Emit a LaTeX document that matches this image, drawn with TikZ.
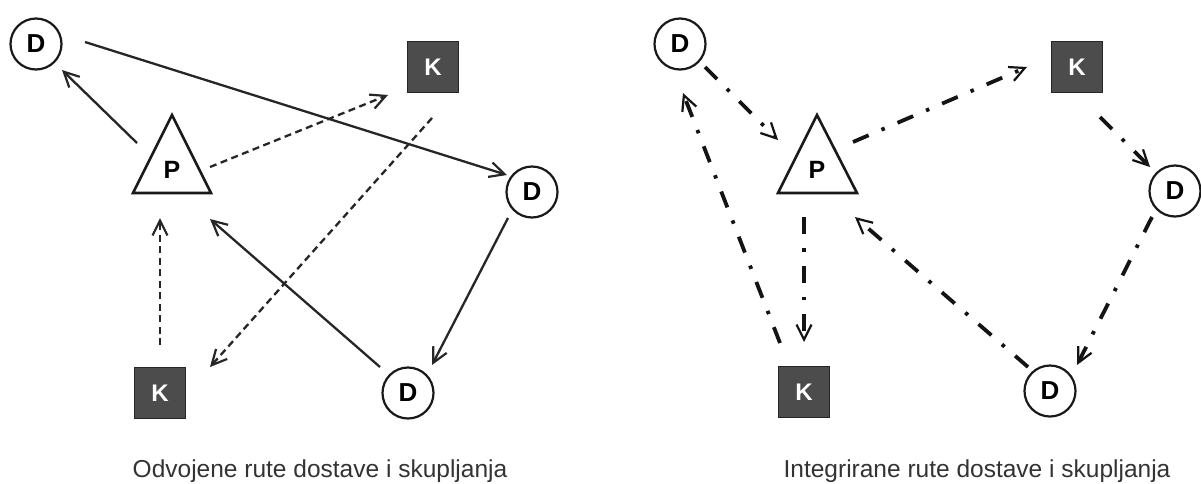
\documentclass[tikz,border=0pt]{standalone}
\usepackage{fontspec}
\setmainfont{Liberation Sans}
\usetikzlibrary{arrows.meta,calc}
\begin{document}
\begin{tikzpicture}[x=1pt,y=-1pt,
  dnode/.style={circle,draw=black!90,line width=2.2pt,minimum size=51pt,inner sep=0pt,font=\fontsize{26}{26}\selectfont\bfseries},
  knode/.style={rectangle,draw=black!85,fill=black!70,line width=1pt,minimum size=51pt,inner sep=0pt,text=white,font=\fontsize{24}{24}\selectfont\bfseries},
  pnode/.style={inner sep=0pt,font=\fontsize{25}{25}\selectfont\bfseries},
  trishape/.style={draw=black!90,line width=2.6pt,line join=miter},
  caption/.style={anchor=base,text=black!80,font=\fontsize{24.5}{29}\selectfont},
  tip/.style={-{Straight Barb[length=15pt,width=15pt,line width=2.2pt]}},
  solidline/.style={draw=black!85,line width=2.3pt,tip},
  dashline/.style={draw=black!85,line width=2.3pt,dash pattern=on 7pt off 4.5pt,tip},
  dashdotline/.style={draw=black!92,line width=3.8pt,dash pattern=on 17pt off 14pt on 3.5pt off 14pt,tip},
]
\useasboundingbox[fill=white] (0,0) rectangle (1201,483);

% ---------- left diagram ----------
\node[dnode] (D1) at (36,44) {D};
\node[dnode] (D2) at (532,192) {D};
\node[dnode] (D3) at (408,393) {D};
\node[knode] (K1) at (433,67) {K};
\node[knode] (K2) at (160,393) {K};
\node[pnode] (P1) at (172,170) {P};
\draw[trishape] ($(P1)+(0,-55)$) -- ($(P1)+(39,23)$) -- ($(P1)+(-39,23)$) -- cycle;

\draw[solidline] ($(P1)+(-35,-27)$) -- ($(D1)+(26,26)$);
\draw[solidline] ($(D1)+(49,-2)$) -- ($(D2)+(-25,-17)$);
\draw[solidline] ($(D2)+(-24,26)$) -- ($(D3)+(24,-28)$);
\draw[solidline] ($(D3)+(-28,-26)$) -- ($(P1)+(38,49)$);
\draw[dashline] ($(P1)+(38,-3)$) -- ($(K1)+(-45,28)$);
\draw[dashline] ($(K1)+(-1,51)$) -- ($(K2)+(50,-26)$);
\draw[dashline] ($(K2)+(0,-48)$) -- ($(P1)+(-12,48)$);

\node[caption] (C1) at (320,477) {Odvojene rute dostave i skupljanja};

% ---------- right diagram ----------
\node[dnode] (D4) at (680,44) {D};
\node[dnode] (D5) at (1175,191) {D};
\node[dnode] (D6) at (1050,391) {D};
\node[knode] (K3) at (1077,67) {K};
\node[knode] (K4) at (804,392) {K};
\node[pnode] (P2) at (817,170) {P};
\draw[trishape] ($(P2)+(0,-55)$) -- ($(P2)+(40,23)$) -- ($(P2)+(-39,23)$) -- cycle;

\draw[dashdotline] ($(D4)+(25,23)$) -- ($(P2)+(-39,-30)$);
\draw[dashdotline] ($(P2)+(36,-28)$) -- ($(K3)+(-50,0)$);
\draw[dashdotline] ($(K3)+(23,50)$) -- ($(D5)+(-25,-24)$);
\draw[dashdotline] ($(D5)+(-23,26)$) -- ($(D6)+(27,-26)$);
\draw[dashdotline] ($(D6)+(-22,-24)$) -- ($(P2)+(38,47)$);
\draw[dashdotline] ($(P2)+(-13,47)$) -- ($(K4)+(0,-50)$);
\draw[dashdotline] ($(K4)+(-24,-49)$) -- ($(D4)+(3,49)$);

\node[caption] (C2) at (977,477) {Integrirane rute dostave i skupljanja};
\end{tikzpicture}
\end{document}
